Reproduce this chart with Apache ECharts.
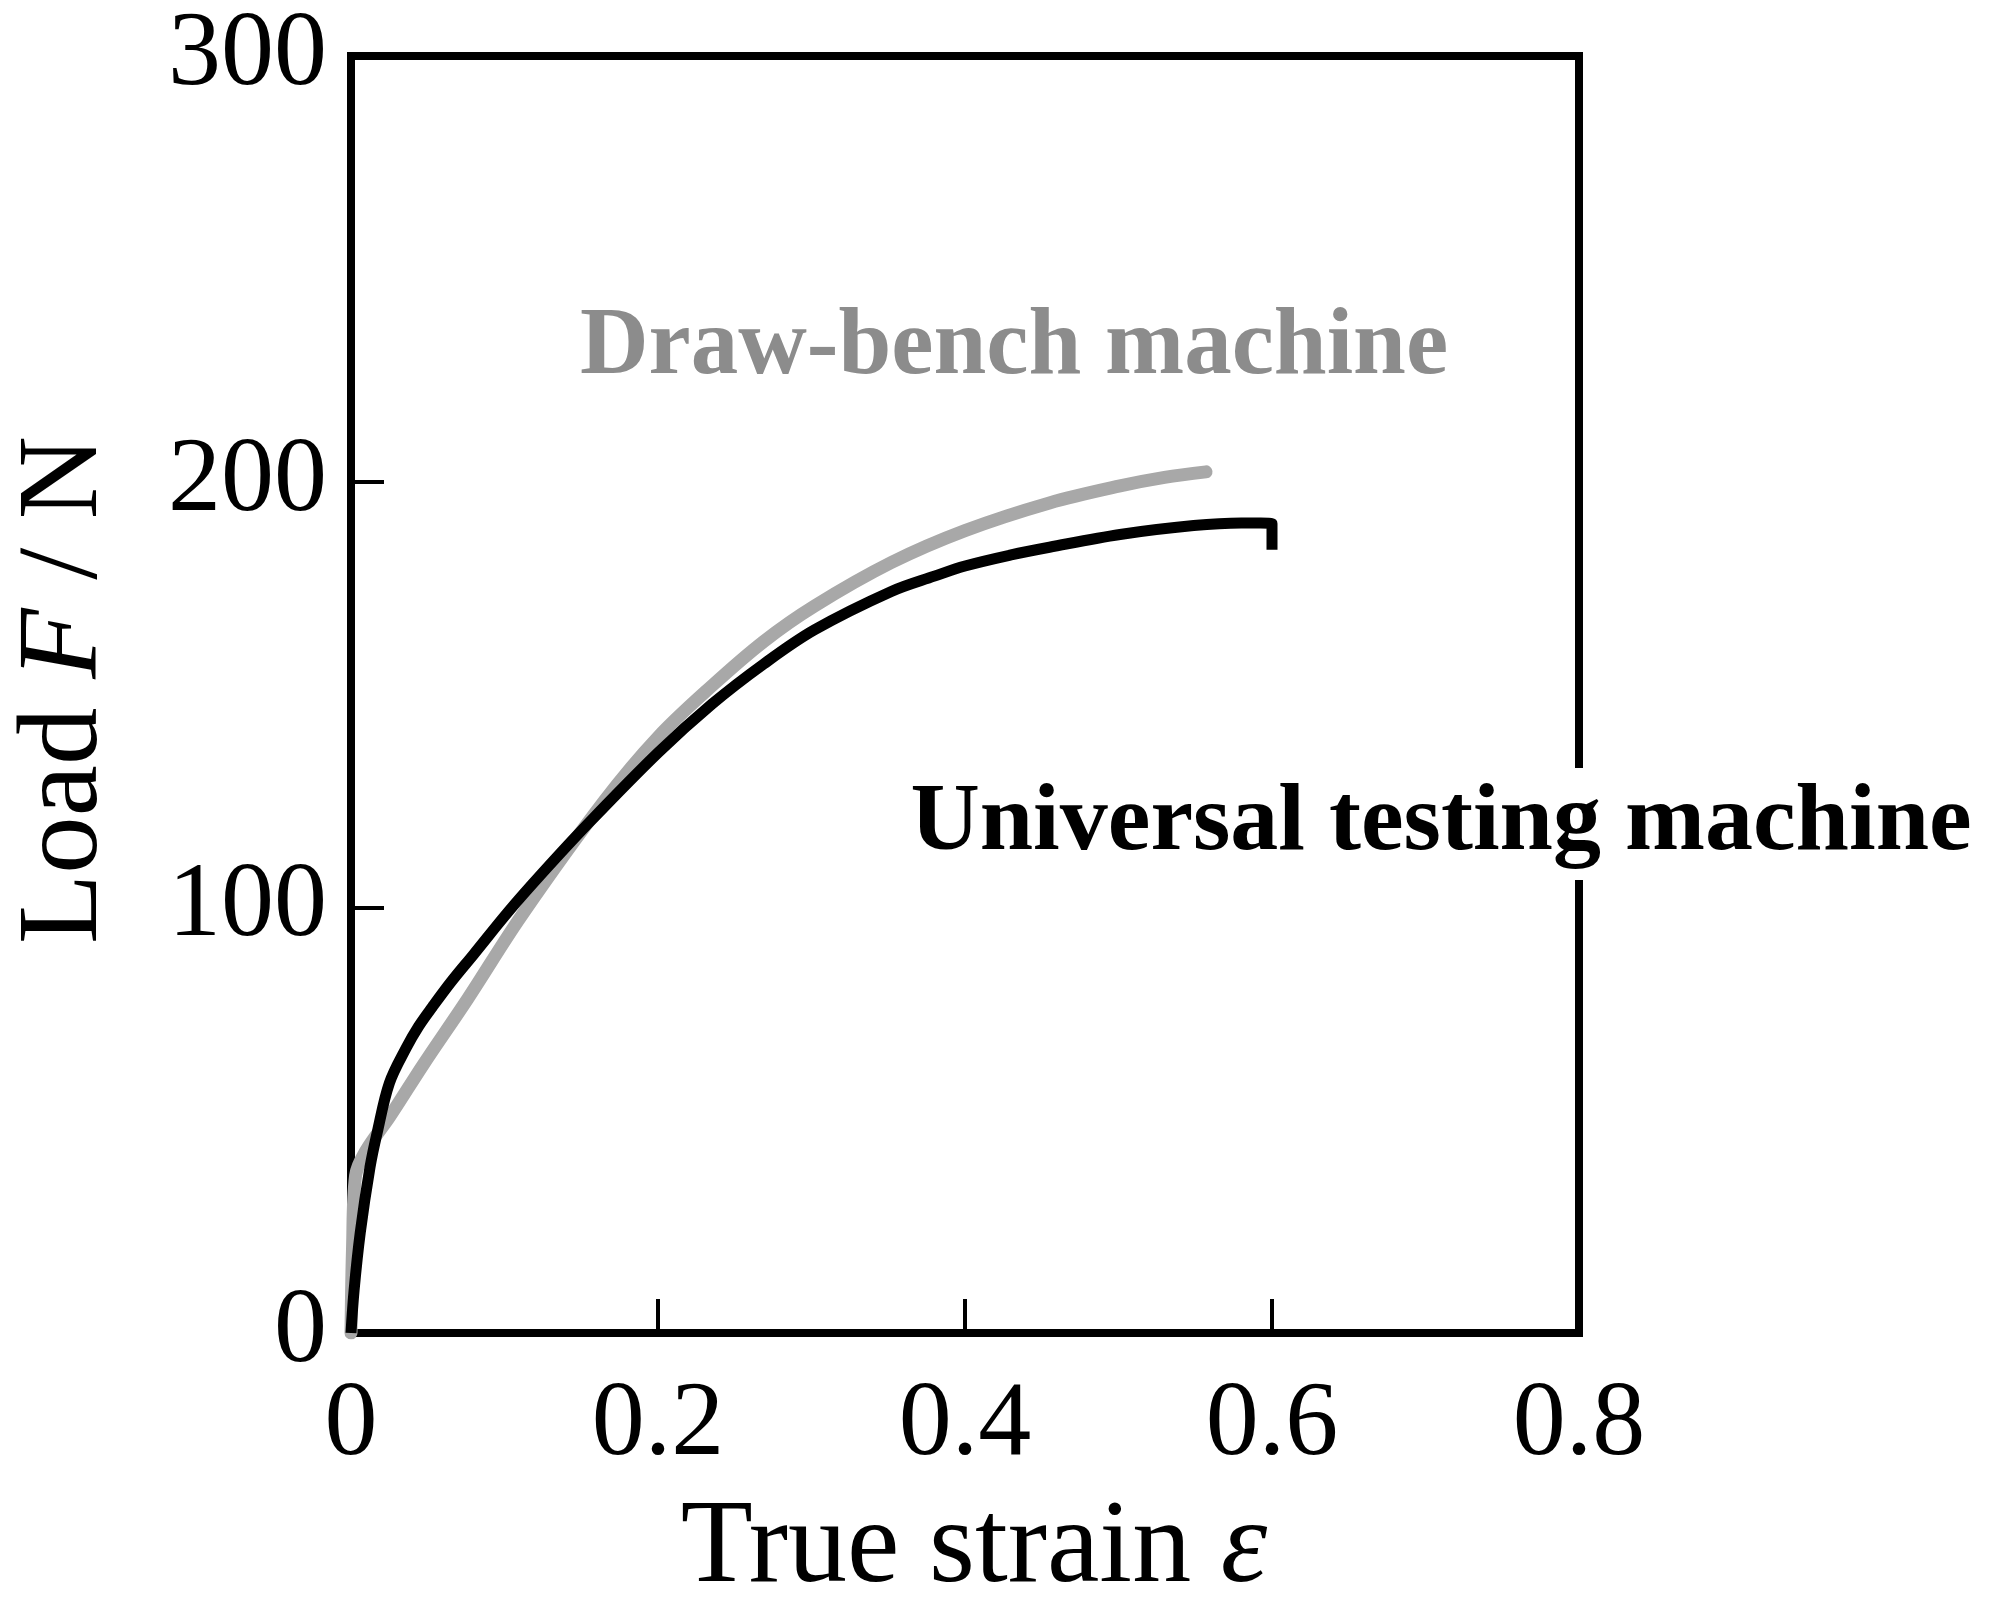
<!DOCTYPE html>
<html>
<head>
<meta charset="utf-8">
<script src="https://cdn.jsdelivr.net/npm/echarts@6/dist/echarts.min.js"></script>
<style>
  html, body { margin: 0; padding: 0; background: #fff; }
  #chart { width: 1996px; height: 1612px; }
</style>
</head>
<body>
<div id="chart"></div>
<script>
// 数据
const xTickLabels = ['0', '0.2', '0.4', '0.6', '0.8']
const yTickLabels = ['0', '100', '200', '300']

// Universal testing machine (black)
const utmStrain = [0, 0.002, 0.006, 0.0124, 0.017, 0.025, 0.036, 0.044, 0.053, 0.065, 0.08, 0.103, 0.125, 0.153, 0.2, 0.235, 0.269, 0.302, 0.352, 0.38, 0.4, 0.43, 0.455, 0.501, 0.549, 0.58, 0.6, 0.6]
const utmLoad = [0, 10, 23.5, 39, 47, 58.7, 67, 72, 76.6, 82.4, 89, 99.2, 108.2, 119.1, 136.3, 147.7, 157.2, 165.2, 174.2, 177.8, 180.2, 182.8, 184.6, 187.6, 189.7, 190.3, 190.1, 184]

// Draw-bench machine (gray)
const dbmStrain = [0, 0.001, 0.003, 0.01, 0.025, 0.047, 0.076, 0.111, 0.165, 0.2, 0.235, 0.269, 0.302, 0.352, 0.4, 0.455, 0.501, 0.53, 0.557]
const dbmLoad = [0, 20, 37, 43, 50.7, 63, 78.5, 98, 125, 140, 152, 162.5, 170.8, 181, 188.5, 195, 199, 201, 202.3]

const serif = '"Liberation Serif", "DejaVu Serif", serif'

const myChart = echarts.init(document.getElementById('chart'))

const options = {
  backgroundColor: '#fff',
  animation: false,
  grid: {
    left: 351,
    right: 417,
    top: 56,
    bottom: 279,
    show: true,
    borderColor: '#000',
    borderWidth: 8,
  },
  xAxis: {
    type: 'value',
    min: 0,
    max: 0.8,
    interval: 0.2,
    splitLine: { show: false },
    axisLine: { show: true, lineStyle: { color: '#000', width: 8 } },
    axisTick: { show: true, inside: true, length: 34, lineStyle: { color: '#000', width: 4 } },
    axisLabel: {
      color: '#000',
      fontFamily: serif,
      fontSize: 106,
      margin: 40,
      formatter: (v) => xTickLabels[Math.round(v / 0.2)],
    },
  },
  yAxis: {
    type: 'value',
    min: 0,
    max: 300,
    interval: 100,
    splitLine: { show: false },
    axisLine: { show: true, lineStyle: { color: '#000', width: 8 } },
    axisTick: { show: true, inside: true, length: 33, lineStyle: { color: '#000', width: 4 } },
    axisLabel: {
      color: '#000',
      fontFamily: serif,
      fontSize: 106,
      margin: 24,
      formatter: (v) => yTickLabels[Math.round(v / 100)],
    },
  },
  series: [
    {
      name: 'Draw-bench machine',
      type: 'line',
      data: dbmStrain.map((s, i) => [s, dbmLoad[i]]),
      showSymbol: false,
      smooth: 0.35,
      lineStyle: { color: '#a8a8a8', width: 13, cap: 'round', join: 'round' },
      z: 3,
    },
    {
      name: 'Universal testing machine',
      type: 'line',
      data: utmStrain.map((s, i) => [s, utmLoad[i]]),
      showSymbol: false,
      smooth: 0.35,
      lineStyle: { color: '#000', width: 11, cap: 'butt', join: 'round' },
      z: 4,
    },
  ],
  graphic: [
    {
      type: 'text',
      z: 100,
      x: 1014,
      y: 348,
      style: {
        text: 'Draw-bench machine',
        fill: '#8c8c8c',
        font: 'bold 95px ' + serif,
        align: 'center',
        verticalAlign: 'middle',
      },
    },
    {
      type: 'text',
      z: 100,
      x: 1441,
      y: 824,
      style: {
        text: 'Universal testing machine',
        fill: '#000',
        font: 'bold 96px ' + serif,
        align: 'center',
        verticalAlign: 'middle',
        backgroundColor: '#fff',
        padding: [6, 4, 10, 4],
      },
    },
    {
      type: 'text',
      z: 100,
      x: 974,
      y: 1550,
      style: {
        text: '{a|True strain }{b|ε}',
        align: 'center',
        verticalAlign: 'middle',
        rich: {
          a: { fontFamily: serif, fontSize: 118, fill: '#000', color: '#000' },
          b: { fontFamily: serif, fontSize: 118, fontStyle: 'italic', fill: '#000', color: '#000' },
        },
      },
    },
    {
      type: 'text',
      z: 100,
      x: 66,
      y: 690,
      rotation: Math.PI / 2,
      style: {
        text: '{a|Load }{b|F}{a| / N}',
        align: 'center',
        verticalAlign: 'middle',
        rich: {
          a: { fontFamily: serif, fontSize: 115, fill: '#000', color: '#000' },
          b: { fontFamily: serif, fontSize: 115, fontStyle: 'italic', fill: '#000', color: '#000' },
        },
      },
    },
  ],
}

myChart.setOption(options)
</script>
</body>
</html>
